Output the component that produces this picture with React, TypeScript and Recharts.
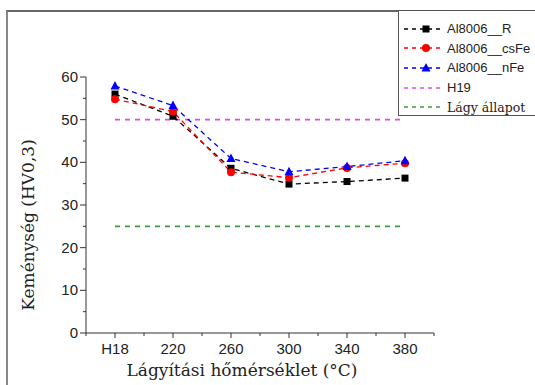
import { LineChart, Line, XAxis, YAxis, Legend } from 'recharts';

const categories = ['H18', '220', '260', '300', '340', '380'];
const seriesNames = ['Al8006__R', 'Al8006__csFe', 'Al8006__nFe', 'H19', 'Lágy állapot'];
const al8006R = [56.0, 50.8, 38.6, 34.9, 35.5, 36.3];
const al8006CsFe = [54.8, 51.9, 37.7, 36.4, 38.7, 39.8];
const al8006NFe = [57.9, 53.3, 40.9, 37.8, 39.0, 40.4];
const h19 = [50, 50, 50, 50, 50, 50];
const lagyAllapot = [25, 25, 25, 25, 25, 25];
const yTicks = [0, 5, 10, 15, 20, 25, 30, 35, 40, 45, 50, 55, 60];
const xTicks = [-0.5, 0, 0.5, 1, 1.5, 2, 2.5, 3, 3.5, 4, 4.5, 5, 5.5];

const data = categories.map((c, i) => ({
  x: i,
  cat: c,
  r: al8006R[i],
  csFe: al8006CsFe[i],
  nFe: al8006NFe[i],
  h19: h19[i],
  lagy: lagyAllapot[i],
}));

const SANS = '"Liberation Sans", Arial, sans-serif';
const SERIF = '"DejaVu Serif", serif';
const AXIS = '#333';

const COLORS = {
  r: '#000000',
  csFe: '#ff0000',
  nFe: '#0000ff',
  h19: '#dd4ddd',
  lagy: '#3c9c3c',
};

// markers take their colour from the "color" prop, Recharts' own fill is white
const Square = ({ cx, cy, color }: any) => (
  <rect x={cx - 3.5} y={cy - 3.5} width={7} height={7} fill={color} />
);
const Circle = ({ cx, cy, color }: any) => <circle cx={cx} cy={cy} r={4} fill={color} />;
const Triangle = ({ cx, cy, color }: any) => (
  <polygon points={`${cx},${cy - 5} ${cx - 4.5},${cy + 3.5} ${cx + 4.5},${cy + 3.5}`} fill={color} />
);

const XTick = (props: any) => {
  const { x, y, payload } = props;
  const v = payload.value;
  const major = Number.isInteger(v);
  return (
    <g>
      <line x1={x} y1={y} x2={x} y2={y + (major ? 5 : 3)} stroke={AXIS} />
      {major && (
        <text x={x} y={y + 21} textAnchor="middle" fontSize={15} fontFamily={SANS} fill="#222">
          {categories[v]}
        </text>
      )}
    </g>
  );
};

const YTick = (props: any) => {
  const { x, y, payload } = props;
  const v = payload.value;
  const major = v % 10 === 0;
  return (
    <g>
      <line x1={x} y1={y} x2={x - (major ? 6 : 3)} y2={y} stroke={AXIS} />
      {major && (
        <text x={x - 8} y={y + 5} textAnchor="end" fontSize={15} fontFamily={SANS} fill="#222">
          {v}
        </text>
      )}
    </g>
  );
};

const legendRows = [
  { key: 'r', Marker: Square, font: SANS, size: 13 },
  { key: 'csFe', Marker: Circle, font: SANS, size: 13 },
  { key: 'nFe', Marker: Triangle, font: SANS, size: 13 },
  { key: 'h19', Marker: null, font: SANS, size: 13 },
  { key: 'lagy', Marker: null, font: SERIF, size: 12.5 },
];

const LegendBox = () => (
  <div
    style={{
      width: 150,
      height: 106,
      border: '1px solid #555',
      boxSizing: 'border-box',
      paddingTop: 8,
      background: '#fff',
    }}
  >
    {legendRows.map((row, i) => {
      const color = (COLORS as any)[row.key];
      const M = row.Marker;
      return (
        <div key={row.key} style={{ display: 'flex', alignItems: 'center', height: 19.6 }}>
          <svg width={48} height={14} style={{ flex: 'none' }}>
            <line x1={5} y1={7} x2={42} y2={7} stroke={color} strokeWidth={1.3} strokeDasharray="4 4" />
            {M && <M cx={27} cy={7} color={color} />}
          </svg>
          <span style={{ fontFamily: row.font, fontSize: row.size, color: '#222', whiteSpace: 'nowrap' }}>
            {seriesNames[i]}
          </span>
        </div>
      );
    })}
  </div>
);

export default function App() {
  return (
    <div style={{ position: 'relative', width: 535, height: 385, overflow: 'hidden', background: '#fff' }}>
      <style>{'body{margin:0}'}</style>
      <div
        style={{
          position: 'absolute',
          left: 6,
          top: 10,
          width: 560,
          height: 400,
          borderTop: '2px solid #666',
          borderLeft: '2px solid #888',
        }}
      />
      <LineChart width={535} height={385} data={data} margin={{ top: 77, right: 101, bottom: 0, left: 0 }}>
        <XAxis
          dataKey="x"
          type="number"
          domain={[-0.5, 5.5]}
          ticks={xTicks}
          interval={0}
          height={52}
          tickSize={0}
          tickMargin={0}
          tickLine={false}
          tick={<XTick />}
          stroke={AXIS}
          label={{
            value: 'Lágyítási hőmérséklet (°C)',
            position: 'insideBottom',
            dx: -18,
            offset: 9,
            fontSize: 17,
            fontFamily: SERIF,
            fill: '#222',
          }}
        />
        <YAxis
          type="number"
          domain={[0, 60]}
          ticks={yTicks}
          interval={0}
          width={86}
          tickSize={0}
          tickMargin={0}
          tickLine={false}
          tick={<YTick />}
          stroke={AXIS}
          label={{
            value: 'Keménység (HV0,3)',
            angle: -90,
            position: 'center',
            dx: -15,
            dy: 20,
            fontSize: 17,
            fontFamily: SERIF,
            fill: '#222',
          }}
        />
        <Legend
          layout="vertical"
          align="center"
          verticalAlign="middle"
          content={<LegendBox />}
          wrapperStyle={{ left: 398, top: 10, width: 150, height: 106 }}
        />
        <Line dataKey="h19" name={seriesNames[3]} stroke={COLORS.h19} strokeWidth={1.8} strokeDasharray="5 5" dot={false} activeDot={false} isAnimationActive={false} />
        <Line dataKey="lagy" name={seriesNames[4]} stroke={COLORS.lagy} strokeWidth={1.8} strokeDasharray="5 5" dot={false} activeDot={false} isAnimationActive={false} />
        <Line dataKey="r" name={seriesNames[0]} stroke={COLORS.r} strokeWidth={1.3} strokeDasharray="5 4" dot={<Square color={COLORS.r} />} activeDot={false} isAnimationActive={false} />
        <Line dataKey="csFe" name={seriesNames[1]} stroke={COLORS.csFe} strokeWidth={1.3} strokeDasharray="5 4" dot={<Circle color={COLORS.csFe} />} activeDot={false} isAnimationActive={false} />
        <Line dataKey="nFe" name={seriesNames[2]} stroke={COLORS.nFe} strokeWidth={1.3} strokeDasharray="5 4" dot={<Triangle color={COLORS.nFe} />} activeDot={false} isAnimationActive={false} />
      </LineChart>
    </div>
  );
}
